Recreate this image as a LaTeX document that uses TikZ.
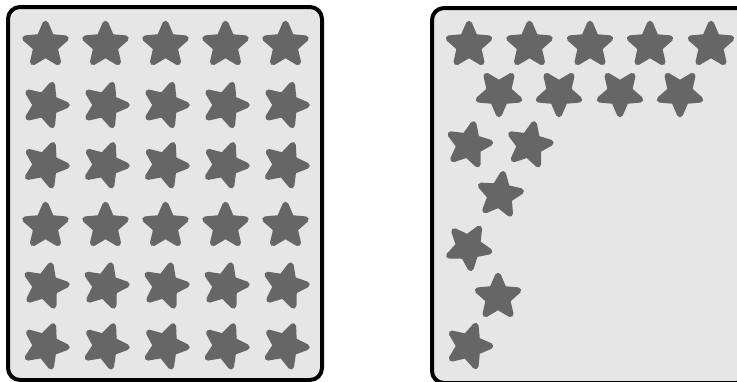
\documentclass[tikz,border=0pt]{standalone}
\usepackage{tikz}
\definecolor{panelfill}{HTML}{E6E6E6}
\definecolor{starfill}{HTML}{666666}
\tikzset{
  panel/.style={draw=black, fill=panelfill, line width=4pt, rounded corners=12pt},
  rstar/.pic={
    \filldraw[starfill, line width=6pt, line join=round]
      (90:21.3) -- (126:9.8) -- (162:21.3) -- (198:9.8) -- (234:21.3) --
      (270:9.8) -- (306:21.3) -- (342:9.8) -- (18:21.3) -- (54:9.8) -- cycle;
  }
}
\begin{document}
\begin{tikzpicture}[x=1pt,y=1pt]
\useasboundingbox (0,0) rectangle (737,-381);
\clip (0,0) rectangle (737,-381);
% panels
\draw[panel] (8,-7) rectangle (322,-380);
\draw[panel] (432,-8) rectangle (748,-383);
% left panel grid of stars
\foreach \yy/\rot in {45/0, 105/-18, 165/-20, 226/0, 286/-14, 346/-21}{
  \foreach \xx in {45.5,105.5,165.5,225.5,285.5}{
    \pic[rotate=\rot] at (\xx,-\yy) {rstar};
  }
}
% right panel stars
\foreach \xx in {469,529.5,590,650,711}{
  \pic at (\xx,-45) {rstar};
}
\foreach \xx in {499,559,620,680}{
  \pic[rotate=180] at (\xx,-93) {rstar};
}
\pic[rotate=-12] at (469,-145) {rstar};
\pic[rotate=-12] at (529.5,-145) {rstar};
\pic[rotate=-8] at (500,-195) {rstar};
\pic[rotate=-30] at (468.5,-247) {rstar};
\pic[rotate=0] at (498,-297) {rstar};
\pic[rotate=-18] at (469,-346) {rstar};
\end{tikzpicture}
\end{document}
